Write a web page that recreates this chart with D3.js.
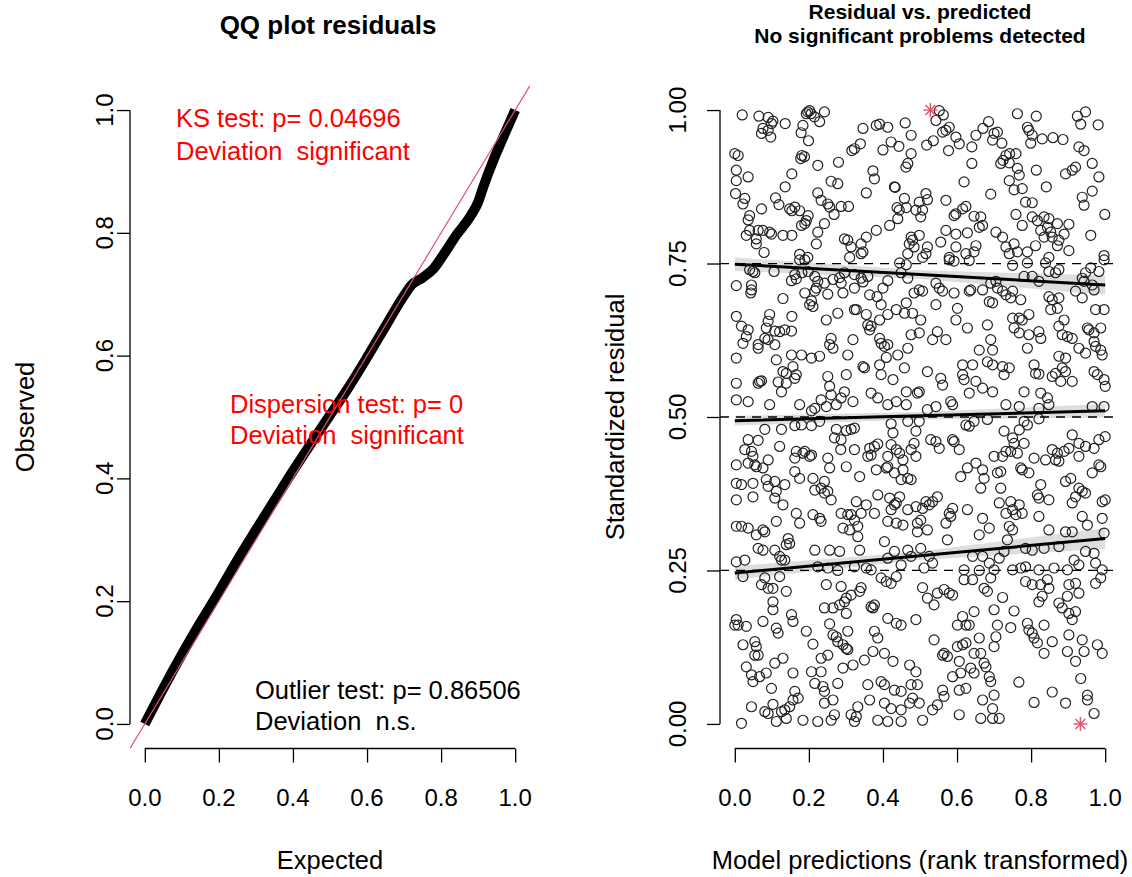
<!DOCTYPE html>
<html>
<head>
<meta charset="utf-8">
<script src="https://cdn.jsdelivr.net/npm/d3@7"></script>
<style>
body { margin: 0; background: #fff; }
svg { font-family: "Liberation Sans", Arial, sans-serif; }
.axis .tick line { stroke: #000; stroke-width: 1.3; }
.axis .domain { display: none; }
</style>
</head>
<body>
<script>
// QQ plot: expected vs observed quantiles of the scaled residuals
const qqExpected = [0, 0.05, 0.1, 0.15, 0.2, 0.25, 0.3, 0.35, 0.4, 0.45, 0.5, 0.55, 0.6, 0.65, 0.7, 0.72,
    0.75, 0.78, 0.806, 0.842, 0.878, 0.9, 0.914, 0.941, 0.968, 1]
const qqObserved = [0, 0.058, 0.113, 0.165, 0.215, 0.267, 0.316, 0.364, 0.412, 0.458, 0.503, 0.548, 0.597,
    0.648, 0.698, 0.715, 0.727, 0.742, 0.764, 0.797, 0.826, 0.85, 0.875, 0.918, 0.956, 1]

const qqTicks = [0, 0.2, 0.4, 0.6, 0.8, 1.0]
const resTicksY = [0, 0.25, 0.5, 0.75, 1.0]
const resTicksX = [0, 0.2, 0.4, 0.6, 0.8, 1.0]

// residual vs. predicted (rank transformed)
const residPoints = [
    [0.020,0.992],[0.065,0.990],[0.090,0.988],[0.103,0.982],[0.099,0.978],[0.136,0.978],[0.076,0.970],[0.072,0.962],
    [0.097,0.956],[0.090,0.967],[0.197,0.997],[0.206,0.994],[0.215,0.989],[0.202,0.999],[0.193,0.994],[0.229,0.981],
    [0.242,0.997],[0.184,0.975],[0.179,0.963],[0.199,0.950],[0.346,0.970],[0.382,0.975],[0.391,0.977],[0.413,0.972],
    [0.460,0.979],[0.476,0.959],[0.000,0.929],[0.009,0.926],[0.316,0.934],[0.323,0.937],[0.339,0.945],[0.400,0.935],
    [0.422,0.948],[0.443,0.941],[0.476,0.929],[0.467,0.913],[0.462,0.907],[0.181,0.926],[0.178,0.921],[0.188,0.924],
    [0.224,0.910],[0.280,0.915],[0.004,0.902],[0.036,0.891],[0.004,0.885],[0.154,0.896],[0.136,0.875],[0.260,0.884],
    [0.278,0.880],[0.373,0.901],[0.377,0.888],[0.431,0.875],[0.433,0.874],[0.355,0.865],[0.002,0.864],[0.027,0.856],
    [0.022,0.847],[0.110,0.857],[0.119,0.846],[0.148,0.839],[0.154,0.836],[0.162,0.842],[0.175,0.836],[0.224,0.865],
    [0.233,0.853],[0.251,0.847],[0.256,0.842],[0.287,0.843],[0.307,0.843],[0.268,0.830],[0.072,0.839],[0.040,0.828],
    [0.036,0.821],[0.198,0.828],[0.193,0.820],[0.180,0.812],[0.189,0.815],[0.242,0.815],[0.224,0.801],[0.040,0.804],
    [0.031,0.796],[0.058,0.790],[0.063,0.804],[0.076,0.804],[0.094,0.801],[0.099,0.798],[0.130,0.796],[0.154,0.796],
    [0.220,0.782],[0.296,0.790],[0.305,0.788],[0.314,0.777],[0.341,0.782],[0.355,0.793],[0.382,0.804],[0.418,0.812],
    [0.440,0.823],[0.438,0.841],[0.463,0.841],[0.458,0.856],[0.476,0.793],[0.471,0.782],[0.079,0.768],[0.058,0.782],
    [0.175,0.765],[0.197,0.760],[0.341,0.766],[0.346,0.769],[0.310,0.760],[0.467,0.766],[0.444,0.837],
    [0.552,0.999],[0.563,0.992],[0.543,0.983],[0.579,0.972],[0.570,0.967],[0.561,0.964],[0.518,0.943],[0.536,0.950],
    [0.597,0.956],[0.606,0.945],[0.577,0.934],[0.640,0.940],[0.651,0.959],[0.670,0.970],[0.685,0.981],[0.700,0.962],
    [0.709,0.964],[0.696,0.951],[0.721,0.946],[0.763,0.994],[0.814,0.990],[0.790,0.972],[0.794,0.967],[0.803,0.959],
    [0.799,0.946],[0.830,0.953],[0.859,0.955],[0.886,0.952],[0.925,0.990],[0.947,0.997],[0.934,0.977],[0.981,0.976],
    [0.929,0.940],[0.943,0.934],[0.965,0.913],[0.983,0.891],[0.920,0.907],[0.911,0.902],[0.893,0.896],[0.814,0.902],
    [0.732,0.926],[0.742,0.929],[0.759,0.929],[0.724,0.918],[0.718,0.913],[0.741,0.914],[0.763,0.905],[0.768,0.894],
    [0.741,0.885],[0.640,0.913],[0.619,0.883],[0.691,0.863],[0.754,0.870],[0.776,0.872],[0.785,0.850],[0.803,0.849],
    [0.841,0.875],[0.938,0.858],[0.943,0.845],[0.965,0.868],[0.999,0.830],[0.570,0.853],[0.516,0.864],[0.520,0.854],
    [0.498,0.850],[0.489,0.837],[0.507,0.837],[0.502,0.826],[0.624,0.843],[0.615,0.839],[0.597,0.831],[0.592,0.828],
    [0.646,0.827],[0.664,0.826],[0.669,0.812],[0.660,0.809],[0.759,0.830],[0.776,0.812],[0.803,0.826],[0.817,0.820],
    [0.835,0.826],[0.848,0.823],[0.844,0.809],[0.853,0.801],[0.857,0.793],[0.871,0.779],[0.871,0.815],[0.902,0.814],
    [0.889,0.798],[0.875,0.788],[0.835,0.793],[0.826,0.804],[0.812,0.779],[0.790,0.769],[0.763,0.769],[0.741,0.766],
    [0.754,0.782],[0.723,0.793],[0.705,0.801],[0.732,0.777],[0.570,0.804],[0.597,0.798],[0.628,0.800],[0.651,0.779],
    [0.646,0.769],[0.624,0.766],[0.597,0.777],[0.556,0.785],[0.520,0.777],[0.516,0.766],[0.498,0.796],[0.480,0.788],
    [0.484,0.777],[0.961,0.796],[0.997,0.763],[0.902,0.771],[0.848,0.760],[0.507,0.760],[0.579,0.760],
    [0.049,0.737],[0.054,0.735],[0.040,0.740],[0.106,0.737],[0.162,0.732],[0.166,0.725],[0.153,0.722],[0.181,0.735],
    [0.198,0.737],[0.216,0.729],[0.242,0.718],[0.224,0.721],[0.265,0.724],[0.283,0.727],[0.287,0.718],[0.296,0.735],
    [0.323,0.732],[0.341,0.726],[0.346,0.720],[0.359,0.729],[0.323,0.710],[0.292,0.702],[0.251,0.700],[0.220,0.710],
    [0.216,0.705],[0.189,0.702],[0.207,0.689],[0.202,0.683],[0.211,0.680],[0.130,0.693],[0.045,0.715],[0.045,0.707],
    [0.043,0.702],[0.004,0.714],[0.364,0.699],[0.384,0.696],[0.400,0.710],[0.413,0.722],[0.449,0.735],[0.463,0.748],
    [0.467,0.726],[0.445,0.751],[0.175,0.756],[0.189,0.756],[0.323,0.675],[0.328,0.675],[0.278,0.669],[0.247,0.658],
    [0.355,0.667],[0.359,0.650],[0.364,0.642],[0.368,0.648],[0.391,0.658],[0.413,0.667],[0.436,0.675],[0.458,0.669],
    [0.463,0.686],[0.395,0.683],[0.004,0.664],[0.018,0.648],[0.036,0.642],[0.031,0.631],[0.022,0.620],[0.063,0.618],
    [0.063,0.612],[0.090,0.626],[0.094,0.667],[0.090,0.656],[0.085,0.645],[0.081,0.628],[0.108,0.618],[0.108,0.640],
    [0.121,0.639],[0.135,0.642],[0.153,0.640],[0.154,0.664],[0.391,0.628],[0.395,0.620],[0.404,0.615],[0.413,0.618],
    [0.260,0.628],[0.256,0.618],[0.265,0.612],[0.319,0.626],[0.305,0.601],[0.153,0.601],[0.180,0.601],[0.207,0.596],
    [0.229,0.599],[0.112,0.593],[0.130,0.574],[0.139,0.571],[0.157,0.582],[0.166,0.569],[0.162,0.563],[0.139,0.555],
    [0.117,0.557],[0.126,0.541],[0.063,0.555],[0.067,0.558],[0.072,0.559],[0.004,0.555],[0.004,0.596],[0.350,0.580],
    [0.346,0.582],[0.391,0.585],[0.409,0.597],[0.440,0.601],[0.467,0.612],[0.458,0.580],[0.427,0.561],[0.395,0.569],
    [0.301,0.569],[0.251,0.566],[0.256,0.550],[0.260,0.536],[0.296,0.541],[0.287,0.531],[0.319,0.525],[0.274,0.520],
    [0.247,0.517],[0.233,0.528],[0.216,0.514],[0.207,0.510],[0.175,0.520],[0.094,0.520],[0.036,0.525],[0.004,0.528],
    [0.368,0.539],[0.386,0.531],[0.413,0.520],[0.436,0.525],[0.463,0.541],[0.463,0.520],[0.476,0.634],
    [0.579,0.756],[0.592,0.754],[0.633,0.755],[0.750,0.747],[0.790,0.751],[0.839,0.751],[0.848,0.737],[0.866,0.735],
    [0.875,0.740],[0.781,0.729],[0.803,0.729],[0.821,0.721],[0.947,0.735],[0.961,0.743],[0.938,0.726],[0.943,0.721],
    [0.965,0.715],[0.983,0.737],[0.997,0.756],[0.498,0.707],[0.507,0.705],[0.484,0.702],[0.543,0.718],[0.552,0.710],
    [0.561,0.705],[0.592,0.702],[0.633,0.705],[0.637,0.707],[0.669,0.707],[0.691,0.718],[0.705,0.721],[0.709,0.710],
    [0.723,0.705],[0.732,0.699],[0.745,0.694],[0.772,0.691],[0.750,0.705],[0.848,0.696],[0.857,0.691],[0.875,0.694],
    [0.920,0.705],[0.938,0.694],[0.970,0.707],[0.853,0.675],[0.871,0.677],[0.974,0.675],[0.997,0.675],[0.543,0.683],
    [0.601,0.677],[0.687,0.688],[0.696,0.686],[0.480,0.669],[0.502,0.658],[0.498,0.637],[0.534,0.626],[0.547,0.639],
    [0.570,0.626],[0.597,0.658],[0.628,0.645],[0.682,0.650],[0.750,0.661],[0.768,0.661],[0.776,0.658],[0.794,0.667],
    [0.754,0.645],[0.768,0.637],[0.794,0.634],[0.821,0.639],[0.826,0.628],[0.875,0.648],[0.889,0.658],[0.884,0.634],
    [0.898,0.631],[0.911,0.628],[0.952,0.645],[0.956,0.642],[0.970,0.637],[0.988,0.645],[0.970,0.623],[0.974,0.615],
    [0.988,0.609],[0.992,0.601],[0.929,0.612],[0.947,0.604],[0.691,0.626],[0.696,0.609],[0.660,0.609],[0.790,0.612],
    [0.875,0.599],[0.893,0.596],[0.884,0.580],[0.893,0.574],[0.615,0.585],[0.642,0.585],[0.682,0.590],[0.696,0.585],
    [0.723,0.582],[0.741,0.580],[0.727,0.569],[0.808,0.585],[0.812,0.571],[0.821,0.570],[0.857,0.566],[0.866,0.571],
    [0.520,0.574],[0.556,0.563],[0.561,0.552],[0.615,0.569],[0.619,0.561],[0.651,0.558],[0.669,0.547],[0.696,0.541],
    [0.633,0.539],[0.781,0.541],[0.826,0.539],[0.844,0.531],[0.848,0.520],[0.911,0.558],[0.880,0.558],[0.970,0.574],
    [0.979,0.569],[0.997,0.561],[1.000,0.550],[0.493,0.539],[0.498,0.541],[0.583,0.525],[0.588,0.520],[0.543,0.517],
    [0.520,0.512],[0.732,0.520],[0.768,0.517],[0.821,0.514],[0.965,0.517],[0.997,0.517],
    [0.081,0.480],[0.126,0.480],[0.162,0.486],[0.180,0.487],[0.207,0.486],[0.229,0.493],[0.274,0.480],[0.301,0.478],
    [0.314,0.480],[0.323,0.482],[0.269,0.466],[0.287,0.463],[0.323,0.447],[0.286,0.447],[0.036,0.463],[0.063,0.462],
    [0.027,0.447],[0.045,0.444],[0.049,0.436],[0.121,0.452],[0.166,0.444],[0.162,0.433],[0.184,0.441],[0.189,0.444],
    [0.202,0.436],[0.207,0.438],[0.004,0.422],[0.036,0.425],[0.054,0.422],[0.058,0.419],[0.076,0.417],[0.090,0.430],
    [0.251,0.433],[0.256,0.417],[0.301,0.419],[0.337,0.403],[0.364,0.449],[0.377,0.452],[0.386,0.456],[0.359,0.436],
    [0.368,0.438],[0.413,0.436],[0.436,0.447],[0.445,0.441],[0.454,0.430],[0.476,0.447],[0.413,0.419],[0.422,0.455],
    [0.427,0.474],[0.422,0.489],[0.467,0.493],[0.382,0.414],[0.409,0.417],[0.431,0.409],[0.454,0.414],[0.467,0.400],
    [0.449,0.398],[0.476,0.398],[0.162,0.411],[0.175,0.400],[0.211,0.400],[0.242,0.395],[0.216,0.381],[0.233,0.384],
    [0.242,0.376],[0.251,0.379],[0.260,0.365],[0.085,0.398],[0.108,0.395],[0.090,0.387],[0.135,0.390],[0.112,0.379],
    [0.108,0.368],[0.130,0.357],[0.049,0.392],[0.049,0.370],[0.004,0.392],[0.018,0.390],[0.004,0.365],[0.386,0.373],
    [0.418,0.368],[0.431,0.357],[0.436,0.360],[0.445,0.370],[0.422,0.349],[0.467,0.349],[0.328,0.362],[0.355,0.357],
    [0.341,0.343],[0.314,0.341],[0.287,0.343],[0.305,0.341],[0.323,0.332],[0.332,0.322],[0.310,0.316],[0.292,0.319],
    [0.332,0.305],[0.377,0.343],[0.413,0.330],[0.436,0.327],[0.454,0.324],[0.166,0.343],[0.175,0.327],[0.211,0.341],
    [0.229,0.335],[0.233,0.330],[0.004,0.322],[0.018,0.322],[0.036,0.319],[0.058,0.308],[0.076,0.316],[0.081,0.313],
    [0.112,0.330],[0.144,0.302],[0.148,0.294],[0.139,0.292],[0.063,0.286],[0.076,0.283],[0.108,0.283],[0.121,0.273],
    [0.126,0.267],[0.135,0.267],[0.216,0.283],[0.256,0.283],[0.283,0.281],[0.337,0.283],[0.404,0.297],[0.431,0.281],
    [0.467,0.283],[0.004,0.264],[0.027,0.267],[0.224,0.256],[0.251,0.254],[0.278,0.250],[0.323,0.256],[0.355,0.254],
    [0.368,0.251],[0.449,0.259],[0.476,0.273],[0.413,0.270],
    [0.624,0.487],[0.633,0.485],[0.646,0.493],[0.682,0.496],[0.781,0.493],[0.790,0.487],[0.821,0.497],[0.498,0.493],
    [0.529,0.463],[0.543,0.460],[0.552,0.449],[0.588,0.463],[0.592,0.460],[0.606,0.447],[0.489,0.477],[0.489,0.436],
    [0.484,0.457],[0.727,0.477],[0.750,0.466],[0.768,0.479],[0.754,0.457],[0.732,0.444],[0.745,0.444],[0.763,0.441],
    [0.781,0.457],[0.723,0.436],[0.700,0.436],[0.718,0.411],[0.709,0.409],[0.772,0.417],[0.776,0.414],[0.794,0.409],
    [0.651,0.425],[0.628,0.417],[0.610,0.403],[0.669,0.414],[0.673,0.400],[0.664,0.384],[0.718,0.384],[0.826,0.390],
    [0.808,0.433],[0.839,0.430],[0.857,0.447],[0.871,0.441],[0.866,0.430],[0.875,0.428],[0.889,0.444],[0.902,0.449],
    [0.911,0.471],[0.929,0.457],[0.929,0.436],[0.947,0.452],[0.970,0.449],[0.983,0.463],[1.000,0.468],[0.988,0.419],
    [0.965,0.409],[0.983,0.422],[0.929,0.384],[0.938,0.379],[0.920,0.370],[0.947,0.376],[0.911,0.360],[0.907,0.400],
    [0.893,0.395],[0.992,0.362],[1.000,0.365],[0.848,0.365],[0.821,0.368],[0.817,0.373],[0.714,0.360],[0.745,0.362],
    [0.750,0.349],[0.768,0.357],[0.776,0.343],[0.732,0.343],[0.759,0.341],[0.821,0.338],[0.669,0.335],[0.687,0.319],
    [0.660,0.308],[0.628,0.349],[0.588,0.351],[0.579,0.343],[0.583,0.338],[0.570,0.327],[0.547,0.370],[0.534,0.362],
    [0.525,0.357],[0.516,0.362],[0.507,0.351],[0.489,0.354],[0.493,0.327],[0.502,0.332],[0.520,0.316],[0.493,0.313],
    [0.741,0.322],[0.750,0.316],[0.736,0.300],[0.848,0.316],[0.893,0.313],[0.911,0.313],[0.938,0.338],[0.952,0.324],
    [0.992,0.335],[0.997,0.311],[0.574,0.300],[0.502,0.286],[0.525,0.273],[0.511,0.254],[0.642,0.273],[0.669,0.273],
    [0.687,0.262],[0.714,0.270],[0.727,0.281],[0.785,0.286],[0.803,0.283],[0.835,0.286],[0.875,0.289],[0.916,0.267],
    [0.929,0.259],[0.947,0.281],[0.970,0.278],[0.974,0.262],[0.992,0.251],[0.898,0.251],[0.862,0.254],[0.821,0.251],
    [0.785,0.256],[0.772,0.254],[0.750,0.251],[0.700,0.251],[0.660,0.250],[0.619,0.251],[0.534,0.262],
    [0.022,0.240],[0.081,0.238],[0.121,0.240],[0.072,0.227],[0.090,0.221],[0.103,0.221],[0.139,0.216],[0.247,0.227],
    [0.287,0.224],[0.341,0.222],[0.337,0.216],[0.314,0.210],[0.301,0.205],[0.296,0.199],[0.283,0.194],[0.265,0.189],
    [0.242,0.189],[0.301,0.180],[0.368,0.191],[0.377,0.194],[0.373,0.189],[0.395,0.238],[0.409,0.232],[0.422,0.229],
    [0.436,0.240],[0.103,0.199],[0.103,0.186],[0.076,0.167],[0.004,0.170],[0.009,0.161],[0.031,0.159],[0.000,0.161],
    [0.153,0.178],[0.157,0.167],[0.112,0.156],[0.117,0.148],[0.193,0.151],[0.256,0.163],[0.265,0.145],[0.274,0.142],
    [0.278,0.134],[0.292,0.129],[0.301,0.123],[0.305,0.151],[0.305,0.121],[0.211,0.130],[0.377,0.151],[0.386,0.140],
    [0.413,0.172],[0.436,0.164],[0.449,0.161],[0.054,0.134],[0.022,0.129],[0.058,0.126],[0.063,0.112],[0.054,0.112],
    [0.031,0.093],[0.045,0.080],[0.049,0.069],[0.067,0.077],[0.085,0.083],[0.108,0.099],[0.130,0.107],[0.157,0.083],
    [0.207,0.085],[0.233,0.085],[0.233,0.107],[0.251,0.112],[0.216,0.066],[0.238,0.061],[0.242,0.053],[0.242,0.034],
    [0.265,0.039],[0.278,0.066],[0.292,0.091],[0.319,0.096],[0.350,0.104],[0.373,0.118],[0.404,0.115],[0.427,0.102],
    [0.472,0.096],[0.395,0.069],[0.404,0.064],[0.431,0.055],[0.449,0.053],[0.476,0.064],[0.359,0.064],[0.364,0.039],
    [0.404,0.034],[0.422,0.025],[0.449,0.023],[0.472,0.034],[0.045,0.028],[0.081,0.020],[0.090,0.017],[0.103,0.032],
    [0.126,0.020],[0.135,0.023],[0.148,0.028],[0.157,0.039],[0.162,0.053],[0.171,0.042],[0.112,0.004],[0.139,0.009],
    [0.184,0.006],[0.224,0.004],[0.260,0.006],[0.269,0.015],[0.314,0.015],[0.328,0.012],[0.323,0.004],[0.332,0.028],
    [0.386,0.006],[0.413,0.004],[0.449,0.004],[0.018,0.001],[0.099,0.058],
    [0.507,0.222],[0.520,0.205],[0.538,0.194],[0.547,0.213],[0.565,0.219],[0.579,0.213],[0.588,0.210],[0.619,0.235],
    [0.642,0.235],[0.673,0.221],[0.682,0.216],[0.691,0.238],[0.723,0.206],[0.700,0.186],[0.754,0.184],[0.489,0.170],
    [0.615,0.175],[0.646,0.183],[0.601,0.161],[0.624,0.161],[0.633,0.161],[0.709,0.161],[0.745,0.157],[0.790,0.164],
    [0.794,0.153],[0.803,0.148],[0.808,0.140],[0.817,0.132],[0.835,0.161],[0.785,0.232],[0.803,0.227],[0.826,0.227],
    [0.821,0.199],[0.830,0.208],[0.844,0.235],[0.848,0.221],[0.902,0.227],[0.920,0.229],[0.929,0.213],[0.974,0.229],
    [0.988,0.238],[0.875,0.197],[0.884,0.189],[0.898,0.208],[0.902,0.180],[0.911,0.170],[0.920,0.183],[0.538,0.137],
    [0.565,0.115],[0.574,0.110],[0.561,0.112],[0.601,0.126],[0.615,0.129],[0.624,0.132],[0.646,0.115],[0.664,0.115],
    [0.660,0.140],[0.705,0.142],[0.700,0.126],[0.857,0.134],[0.835,0.115],[0.902,0.145],[0.898,0.118],[0.938,0.137],
    [0.943,0.118],[0.920,0.102],[0.979,0.129],[0.992,0.115],[0.606,0.102],[0.673,0.099],[0.678,0.093],[0.637,0.091],
    [0.646,0.083],[0.610,0.083],[0.588,0.077],[0.687,0.077],[0.691,0.069],[0.489,0.085],[0.493,0.064],[0.498,0.034],
    [0.480,0.042],[0.534,0.023],[0.507,0.006],[0.547,0.031],[0.565,0.045],[0.561,0.055],[0.606,0.055],[0.624,0.058],
    [0.669,0.039],[0.700,0.047],[0.606,0.015],[0.664,0.009],[0.696,0.025],[0.696,0.009],[0.714,0.009],[0.767,0.068],
    [0.808,0.035],[0.857,0.052],[0.893,0.034],[0.934,0.074],[0.952,0.047],[0.952,0.039],[0.970,0.017]
]

// outliers (red stars)
const outliers = [[0.528, 1.0], [0.933, 0.0]]

// quantile regression fits at 0.25 / 0.5 / 0.75 with their uncertainty bands
const quantX = [0, 0.5, 1]
const q25Fit = [0.246, 0.274, 0.302], q25Half = [0.011, 0.007, 0.017]
const q50Fit = [0.494, 0.502, 0.510], q50Half = [0.008, 0.006, 0.011]
const q75Fit = [0.749, 0.732, 0.715], q75Half = [0.011, 0.007, 0.016]
const quantLevels = [0.25, 0.5, 0.75]

const W = 1132, H = 877
const RED_TEXT = "#FF0000", RED_LINE = "#DF536B"
const FS = 25.5

const svg = d3.select("body").append("svg")
    .attr("width", W)
    .attr("height", H)

// R style plot regions (4% padding around [0,1])
const yS = d3.scaleLinear().domain([-0.04, 1.04]).range([748.5, 85.5])
const xL = d3.scaleLinear().domain([-0.04, 1.04]).range([130, 530])
const xR = d3.scaleLinear().domain([-0.04, 1.04]).range([720, 1120])

function drawAxes(x, yTicks, xTicks, yFmt, xFmt, yLabelX) {
    const ax = svg.append("g").attr("class", "axis")
    const x0 = x.range()[0], yb = yS.range()[0]

    ax.append("g")
        .attr("transform", `translate(${x0},0)`)
        .call(d3.axisLeft(yS).tickValues(yTicks).tickSize(13).tickFormat(""))
    ax.append("line")
        .attr("x1", x0).attr("x2", x0)
        .attr("y1", yS(yTicks[0])).attr("y2", yS(yTicks[yTicks.length - 1]))
        .attr("stroke", "#000").attr("stroke-width", 1.3)
    ax.selectAll("text.ylab").data(yTicks).join("text")
        .attr("class", "ylab")
        .attr("transform", d => `translate(${yLabelX},${yS(d)}) rotate(-90)`)
        .attr("text-anchor", "middle")
        .attr("font-size", 24)
        .text(yFmt)

    ax.append("g")
        .attr("transform", `translate(0,${yb})`)
        .call(d3.axisBottom(x).tickValues(xTicks).tickSize(14).tickFormat(""))
    ax.append("line")
        .attr("x1", x(xTicks[0])).attr("x2", x(xTicks[xTicks.length - 1]))
        .attr("y1", yb).attr("y2", yb)
        .attr("stroke", "#000").attr("stroke-width", 1.3)
    ax.selectAll("text.xlab").data(xTicks).join("text")
        .attr("class", "xlab")
        .attr("x", d => x(d))
        .attr("y", 806)
        .attr("text-anchor", "middle")
        .attr("font-size", 24)
        .text(xFmt)
}

function label(txt, x, y, opts = {}) {
    const t = svg.append("text")
        .attr("x", x).attr("y", y)
        .attr("font-size", opts.size || FS)
        .attr("font-weight", opts.bold ? "bold" : null)
        .attr("fill", opts.fill || "#000")
        .attr("text-anchor", opts.anchor || "start")
        .style("white-space", "pre")
        .text(txt)
    if (opts.rotate) t.attr("transform", `rotate(-90,${x},${y})`)
    return t
}

// ---------- left: QQ plot ----------
svg.append("defs").append("clipPath").attr("id", "clipL")
    .append("rect").attr("x", 130).attr("y", 85.5).attr("width", 400).attr("height", 663)

const qq = qqExpected.map((e, i) => [e, qqObserved[i]])
svg.append("path")
    .datum(qq)
    .attr("fill", "none")
    .attr("stroke", "#000")
    .attr("stroke-width", 10)
    .attr("stroke-linejoin", "round")
    .attr("d", d3.line().curve(d3.curveMonotoneX).x(d => xL(d[0])).y(d => yS(d[1])))

svg.append("line")
    .attr("clip-path", "url(#clipL)")
    .attr("x1", xL(-0.04)).attr("y1", yS(-0.04))
    .attr("x2", xL(1.04)).attr("y2", yS(1.04))
    .attr("stroke", RED_LINE).attr("stroke-width", 1.2)

drawAxes(xL, qqTicks, qqTicks, d3.format(".1f"), d3.format(".1f"), 113)

label("QQ plot residuals", 328, 34, { bold: true, size: 26, anchor: "middle" })
label("Expected", 330, 869, { anchor: "middle" })
label("Observed", 34, 417, { anchor: "middle", rotate: true })

label("KS test: p= 0.04696", 176, 127, { fill: RED_TEXT })
label("Deviation  significant", 176, 160, { fill: RED_TEXT })
label("Dispersion test: p= 0", 230, 413, { fill: RED_TEXT })
label("Deviation  significant", 230, 444, { fill: RED_TEXT })
label("Outlier test: p= 0.86506", 255, 699)
label("Deviation  n.s.", 255, 730)

// ---------- right: residual vs predicted ----------
svg.append("g")
    .selectAll("circle")
    .data(residPoints)
    .join("circle")
    .attr("cx", d => xR(d[0]))
    .attr("cy", d => yS(d[1]))
    .attr("r", 5)
    .attr("fill", "none")
    .attr("stroke", "#222")
    .attr("stroke-width", 1.2)

svg.append("g")
    .selectAll("line")
    .data(quantLevels)
    .join("line")
    .attr("x1", xR.range()[0]).attr("x2", xR.range()[1])
    .attr("y1", d => yS(d)).attr("y2", d => yS(d))
    .attr("stroke", "#000")
    .attr("stroke-width", 1.3)
    .attr("stroke-dasharray", "9,7")

const bandArea = d3.area()
    .x(d => xR(d.x))
    .y0(d => yS(d.fit - d.half))
    .y1(d => yS(d.fit + d.half))
const fitLine = d3.line().x(d => xR(d.x)).y(d => yS(d.fit))

const quantFits = [[q25Fit, q25Half], [q50Fit, q50Half], [q75Fit, q75Half]]
    .map(([f, h]) => quantX.map((x, i) => ({ x: x, fit: f[i], half: h[i] })))

svg.append("g").selectAll("path")
    .data(quantFits)
    .join("path")
    .attr("d", bandArea)
    .attr("fill", "rgba(0,0,0,0.13)")

svg.append("g").selectAll("path")
    .data(quantFits)
    .join("path")
    .attr("d", fitLine)
    .attr("fill", "none")
    .attr("stroke", "#000")
    .attr("stroke-width", 3)

// asterisks for outliers
const star = svg.append("g").selectAll("g")
    .data(outliers)
    .join("g")
    .attr("transform", d => `translate(${xR(d[0])},${yS(d[1])})`)
star.selectAll("line")
    .data([0, 45, 90, 135])
    .join("line")
    .attr("x1", -7).attr("x2", 7)
    .attr("transform", a => `rotate(${a})`)
    .attr("stroke", RED_LINE)
    .attr("stroke-width", 1.4)

drawAxes(xR, resTicksY, resTicksX, d3.format(".2f"), d3.format(".1f"), 686)

label("Residual vs. predicted", 920, 19, { bold: true, size: 21, anchor: "middle" })
label("No significant problems detected", 920, 43, { bold: true, size: 21, anchor: "middle" })
label("Model predictions (rank transformed)", 920, 869, { anchor: "middle" })
label("Standardized residual", 624, 417, { anchor: "middle", rotate: true })
</script>
</body>
</html>
